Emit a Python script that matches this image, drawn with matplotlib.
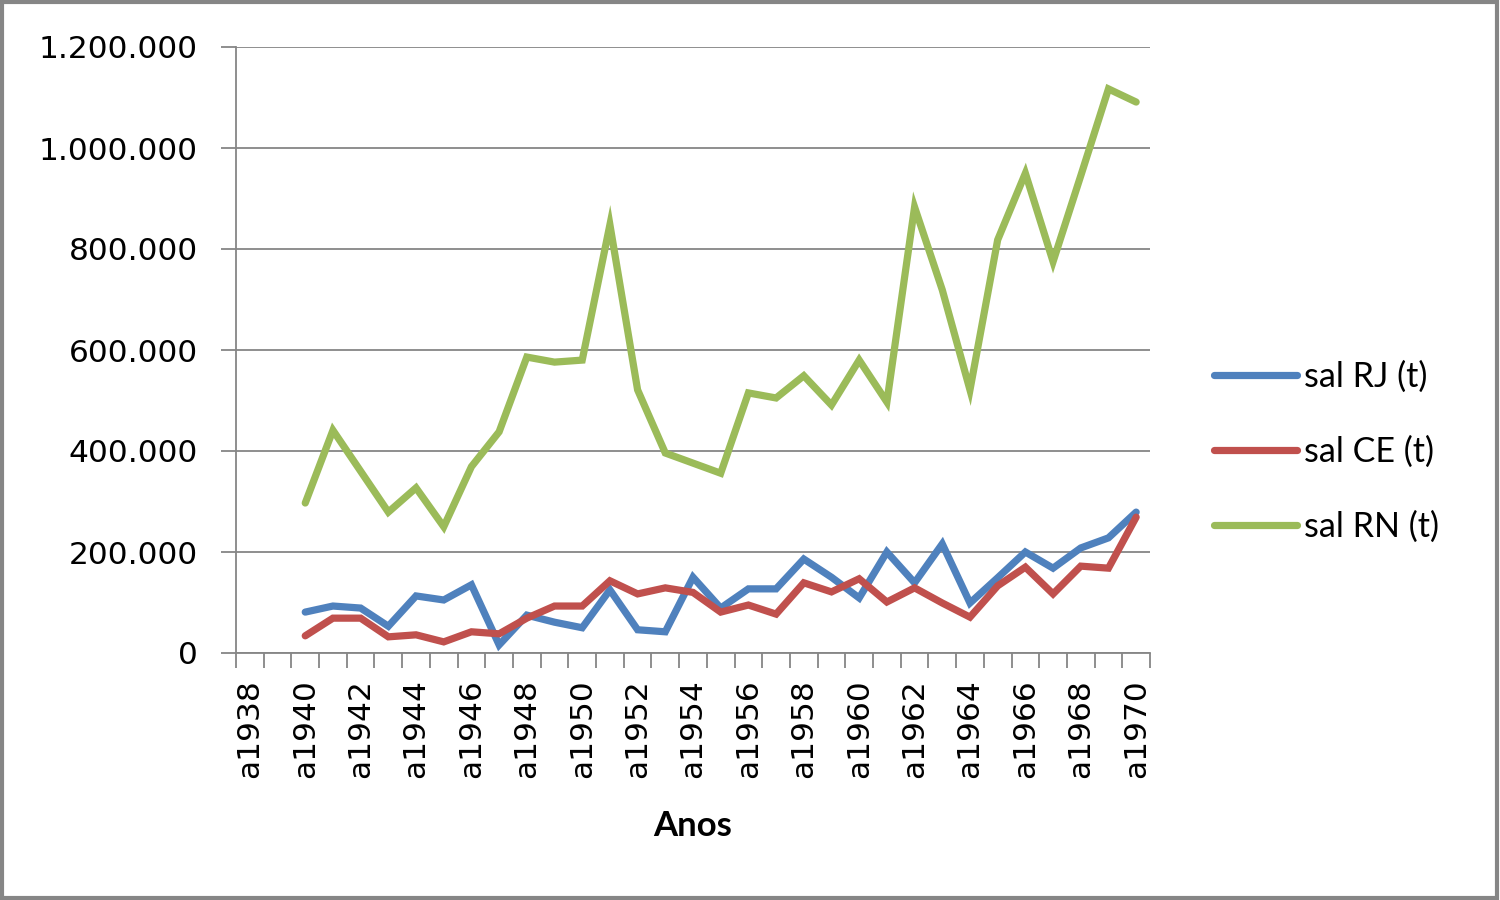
import matplotlib
matplotlib.use("Agg")
import matplotlib.pyplot as plt
from matplotlib.patches import Rectangle
from matplotlib.ticker import FixedLocator, FuncFormatter

# ---- data ----
categories = ["a%d" % y for y in range(1938, 1971)]
years_data = ["a%d" % y for y in range(1940, 1971)]

sal_rj = [81000, 93000, 89000, 53000, 113000, 105000, 135000, 16000, 75000, 61000,
          50000, 125000, 46000, 42000, 150000, 89000, 127000, 127000, 186000, 150000,
          109000, 200000, 139000, 216000, 99000, 149000, 200000, 168000, 208000, 228000,
          279000]
sal_ce = [34000, 69000, 69000, 32000, 36000, 22000, 42000, 38000, 69000, 93000,
          93000, 143000, 117000, 129000, 120000, 81000, 95000, 77000, 139000, 121000,
          147000, 101000, 129000, 99000, 71000, 133000, 170000, 117000, 172000, 168000,
          269000]
sal_rn = [297000, 441000, 360000, 279000, 327000, 250000, 369000, 438000, 586000, 576000,
          580000, 848000, 521000, 396000, 376000, 356000, 515000, 505000, 549000, 491000,
          580000, 497000, 883000, 719000, 521000, 818000, 950000, 775000, 945000, 1117000,
          1091000]

series_names = ["sal RJ (t)", "sal CE (t)", "sal RN (t)"]
series_colors = ["#4F81BD", "#C0504D", "#9BBB59"]
y_ticks = [0, 200000, 400000, 600000, 800000, 1000000, 1200000]
x_title = "Anos"

# ---- figure ----
fig = plt.figure(figsize=(15, 9), dpi=100)
ax = fig.add_axes([236 / 1500, 1 - 653 / 900, (1150 - 236) / 1500, (653 - 47) / 900])

idx = {c: i for i, c in enumerate(categories)}
xs = [idx[c] for c in years_data]

for vals, name, col in zip([sal_rj, sal_ce, sal_rn], series_names, series_colors):
    ax.plot(xs, vals, color=col, lw=5.2, label=name, solid_joinstyle="miter",
            solid_capstyle="round")

ax.set_xlim(-0.5, len(categories) - 0.5)
ax.set_ylim(0, 1200000)

grid_col = "#868686"
ax.set_yticks(y_ticks)
ax.yaxis.set_major_formatter(FuncFormatter(lambda v, p: f"{int(v):,}".replace(",", ".")))
ax.yaxis.grid(True, color=grid_col, lw=1.3)
ax.set_axisbelow(True)

major = list(range(0, len(categories), 2))
ax.xaxis.set_major_locator(FixedLocator(major))
ax.set_xticklabels([categories[i] for i in major], rotation=90, va="top", ha="center")
ax.xaxis.set_minor_locator(FixedLocator([i - 0.5 for i in range(len(categories) + 1)]))

ax.tick_params(axis="x", which="major", length=0, pad=19, labelsize=22.5, colors="black")
ax.tick_params(axis="x", which="minor", length=10.5, width=1.3, color=grid_col, direction="out")
ax.tick_params(axis="y", which="major", length=10.5, width=1.3, color=grid_col, pad=17,
               labelsize=22.5, labelcolor="black")

for side in ["top", "right"]:
    ax.spines[side].set_visible(False)
for side in ["left", "bottom"]:
    ax.spines[side].set_color(grid_col)
    ax.spines[side].set_linewidth(1.3)

for lab in ax.get_xticklabels() + ax.get_yticklabels():
    lab.set_family("DejaVu Sans")

fig.text(693 / 1500, 1 - 826 / 900, x_title, ha="center", va="center",
         fontsize=25, fontweight="bold", family="Lato")

fig.legend(loc="center left", bbox_to_anchor=(1197 / 1500, 1 - 452 / 900),
           frameon=False, prop={"family": "Lato", "size": 24.5},
           handlelength=2.45, handletextpad=0.18, labelspacing=1.25, borderpad=0)

fig.patches.append(Rectangle((0.001, 0.002), 0.997, 0.996, transform=fig.transFigure,
                             fill=False, edgecolor="#868686", lw=3))

fig.savefig("out.png", dpi=100)
